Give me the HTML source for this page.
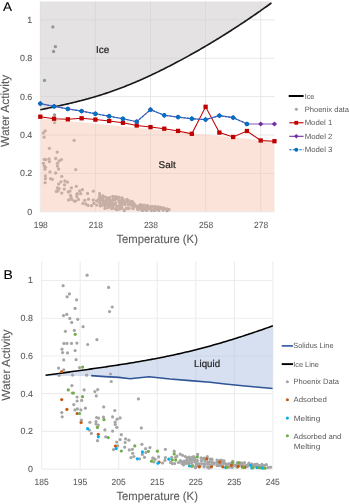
<!DOCTYPE html>
<html><head><meta charset="utf-8"><style>
html,body{margin:0;padding:0;background:#fff;}
body{width:350px;height:504px;overflow:hidden;font-family:"Liberation Sans",sans-serif;}
svg{display:block;will-change:transform;text-rendering:geometricPrecision;}
</style></head><body>
<svg width="350" height="504" viewBox="0 0 350 504">
<line x1="40.3" y1="211.8" x2="274.5" y2="211.8" stroke="#E4E4E4" stroke-width="0.9"/>
<line x1="40.3" y1="173.4" x2="274.5" y2="173.4" stroke="#E4E4E4" stroke-width="0.9"/>
<line x1="40.3" y1="135" x2="274.5" y2="135" stroke="#E4E4E4" stroke-width="0.9"/>
<line x1="40.3" y1="96.6" x2="274.5" y2="96.6" stroke="#E4E4E4" stroke-width="0.9"/>
<line x1="40.3" y1="58.2" x2="274.5" y2="58.2" stroke="#E4E4E4" stroke-width="0.9"/>
<line x1="40.3" y1="19.8" x2="274.5" y2="19.8" stroke="#E4E4E4" stroke-width="0.9"/>
<line x1="40.3" y1="1.5" x2="40.3" y2="211.8" stroke="#E4E4E4" stroke-width="0.9"/>
<line x1="95.4" y1="1.5" x2="95.4" y2="211.8" stroke="#E4E4E4" stroke-width="0.9"/>
<line x1="150.5" y1="1.5" x2="150.5" y2="211.8" stroke="#E4E4E4" stroke-width="0.9"/>
<line x1="205.6" y1="1.5" x2="205.6" y2="211.8" stroke="#E4E4E4" stroke-width="0.9"/>
<line x1="260.7" y1="1.5" x2="260.7" y2="211.8" stroke="#E4E4E4" stroke-width="0.9"/>
<polygon points="40.3,1.5 40.3,109.75 41.68,109.47 43.05,109.19 44.43,108.91 45.81,108.63 47.19,108.34 48.56,108.06 49.94,107.77 51.32,107.48 52.7,107.19 54.07,106.9 55.45,106.6 56.83,106.3 58.21,106 59.58,105.7 60.96,105.4 62.34,105.09 63.72,104.78 65.09,104.47 66.47,104.16 67.85,103.84 69.23,103.52 70.6,103.19 71.98,102.86 73.36,102.53 74.74,102.19 76.11,101.86 77.49,101.51 78.87,101.16 80.25,100.81 81.62,100.46 83,100.09 84.38,99.73 85.76,99.36 87.13,98.98 88.51,98.6 89.89,98.21 91.27,97.82 92.64,97.43 94.02,97.02 95.4,96.62 96.78,96.2 98.16,95.78 99.53,95.36 100.91,94.93 102.29,94.49 103.66,94.05 105.04,93.6 106.42,93.15 107.8,92.68 109.17,92.22 110.55,91.74 111.93,91.26 113.31,90.78 114.68,90.29 116.06,89.79 117.44,89.28 118.82,88.77 120.19,88.25 121.57,87.73 122.95,87.2 124.33,86.67 125.7,86.12 127.08,85.58 128.46,85.02 129.84,84.46 131.21,83.9 132.59,83.33 133.97,82.75 135.35,82.17 136.72,81.58 138.1,80.99 139.48,80.39 140.86,79.78 142.24,79.17 143.61,78.56 144.99,77.93 146.37,77.31 147.75,76.68 149.12,76.04 150.5,75.4 151.88,74.75 153.25,74.1 154.63,73.45 156.01,72.78 157.39,72.12 158.76,71.45 160.14,70.77 161.52,70.09 162.9,69.41 164.27,68.72 165.65,68.03 167.03,67.33 168.41,66.63 169.78,65.92 171.16,65.21 172.54,64.5 173.92,63.78 175.3,63.06 176.67,62.33 178.05,61.6 179.43,60.87 180.81,60.13 182.18,59.38 183.56,58.64 184.94,57.89 186.31,57.13 187.69,56.37 189.07,55.61 190.45,54.84 191.82,54.07 193.2,53.3 194.58,52.52 195.96,51.74 197.33,50.95 198.71,50.16 200.09,49.37 201.47,48.57 202.84,47.77 204.22,46.97 205.6,46.16 206.98,45.34 208.36,44.53 209.73,43.71 211.11,42.88 212.49,42.06 213.87,41.22 215.24,40.39 216.62,39.55 218,38.7 219.38,37.86 220.75,37.01 222.13,36.15 223.51,35.29 224.88,34.43 226.26,33.56 227.64,32.69 229.02,31.82 230.39,30.94 231.77,30.06 233.15,29.17 234.53,28.28 235.9,27.39 237.28,26.49 238.66,25.59 240.04,24.68 241.41,23.78 242.79,22.86 244.17,21.94 245.55,21.02 246.93,20.1 248.3,19.17 249.68,18.23 251.06,17.3 252.44,16.35 253.81,15.41 255.19,14.46 256.57,13.51 257.94,12.55 259.32,11.59 260.7,10.62 262.08,9.65 263.45,8.68 264.83,7.7 266.21,6.72 267.59,5.73 268.96,4.74 270.34,3.74 271.44,2.95 271.44,1.5" fill="#D2CFD0" fill-opacity="0.6"/>
<circle cx="52.9" cy="26.9" r="1.65" fill="#959595"/>
<circle cx="55.4" cy="46.7" r="1.65" fill="#959595"/>
<circle cx="53.6" cy="51.5" r="1.65" fill="#959595"/>
<circle cx="44.5" cy="80.4" r="1.65" fill="#959595"/>
<circle cx="54.6" cy="114.8" r="1.65" fill="#959595"/>
<circle cx="54.6" cy="122.6" r="1.65" fill="#959595"/>
<circle cx="45.2" cy="130.9" r="1.65" fill="#959595"/>
<circle cx="43.4" cy="132.9" r="1.65" fill="#959595"/>
<circle cx="44.1" cy="137.2" r="1.65" fill="#959595"/>
<circle cx="74.1" cy="140.3" r="1.65" fill="#959595"/>
<circle cx="49.4" cy="148.3" r="1.65" fill="#959595"/>
<circle cx="57.2" cy="152.1" r="1.65" fill="#959595"/>
<circle cx="44.3" cy="159.3" r="1.65" fill="#959595"/>
<circle cx="45.8" cy="159.6" r="1.65" fill="#959595"/>
<circle cx="49.1" cy="158.9" r="1.65" fill="#959595"/>
<circle cx="49.4" cy="161.6" r="1.65" fill="#959595"/>
<circle cx="55.7" cy="158.5" r="1.65" fill="#959595"/>
<circle cx="59.1" cy="161" r="1.65" fill="#959595"/>
<circle cx="61.4" cy="159.6" r="1.65" fill="#959595"/>
<circle cx="43.5" cy="163.3" r="1.65" fill="#959595"/>
<circle cx="44.3" cy="166.1" r="1.65" fill="#959595"/>
<circle cx="45.4" cy="167.3" r="1.65" fill="#959595"/>
<circle cx="44.9" cy="169.2" r="1.65" fill="#959595"/>
<circle cx="57.4" cy="163.3" r="1.65" fill="#959595"/>
<circle cx="57.4" cy="166.1" r="1.65" fill="#959595"/>
<circle cx="58.6" cy="169" r="1.65" fill="#959595"/>
<circle cx="75.7" cy="169.6" r="1.65" fill="#959595"/>
<circle cx="50" cy="171.9" r="1.65" fill="#959595"/>
<circle cx="55.7" cy="173" r="1.65" fill="#959595"/>
<circle cx="45.4" cy="175.9" r="1.65" fill="#959595"/>
<circle cx="45.4" cy="178.7" r="1.65" fill="#959595"/>
<circle cx="50.6" cy="178.7" r="1.65" fill="#959595"/>
<circle cx="52.3" cy="179.3" r="1.65" fill="#959595"/>
<circle cx="61.8" cy="176.4" r="1.65" fill="#959595"/>
<circle cx="45.1" cy="182.7" r="1.65" fill="#959595"/>
<circle cx="60.9" cy="181.8" r="1.65" fill="#959595"/>
<circle cx="64.9" cy="181" r="1.65" fill="#959595"/>
<circle cx="67.5" cy="182.1" r="1.65" fill="#959595"/>
<circle cx="58.6" cy="184.1" r="1.65" fill="#959595"/>
<circle cx="64.5" cy="184.8" r="1.65" fill="#959595"/>
<circle cx="57.4" cy="188" r="1.65" fill="#959595"/>
<circle cx="59.1" cy="188.6" r="1.65" fill="#959595"/>
<circle cx="56.3" cy="191.4" r="1.65" fill="#959595"/>
<circle cx="58" cy="190.9" r="1.65" fill="#959595"/>
<circle cx="64.3" cy="189.1" r="1.65" fill="#959595"/>
<circle cx="71.4" cy="187.8" r="1.65" fill="#959595"/>
<circle cx="76.3" cy="186.3" r="1.65" fill="#959595"/>
<circle cx="61.8" cy="193.1" r="1.65" fill="#959595"/>
<circle cx="68.3" cy="192" r="1.65" fill="#959595"/>
<circle cx="69.8" cy="191.2" r="1.65" fill="#959595"/>
<circle cx="70.6" cy="195.4" r="1.65" fill="#959595"/>
<circle cx="76.9" cy="194.3" r="1.65" fill="#959595"/>
<circle cx="76.9" cy="196.6" r="1.65" fill="#959595"/>
<circle cx="68.6" cy="200" r="1.65" fill="#959595"/>
<circle cx="71.7" cy="199.4" r="1.65" fill="#959595"/>
<circle cx="74.3" cy="201.1" r="1.65" fill="#959595"/>
<circle cx="71.1" cy="197.7" r="1.65" fill="#959595"/>
<circle cx="79.6" cy="190.9" r="1.65" fill="#959595"/>
<circle cx="82.4" cy="189.7" r="1.65" fill="#959595"/>
<circle cx="77.3" cy="193.7" r="1.65" fill="#959595"/>
<circle cx="80.7" cy="193.7" r="1.65" fill="#959595"/>
<circle cx="78.4" cy="199.4" r="1.65" fill="#959595"/>
<circle cx="75.6" cy="201.1" r="1.65" fill="#959595"/>
<circle cx="87.6" cy="193.5" r="1.65" fill="#959595"/>
<circle cx="93.3" cy="191.2" r="1.65" fill="#959595"/>
<circle cx="84.7" cy="200.3" r="1.65" fill="#959595"/>
<circle cx="88.5" cy="199.2" r="1.65" fill="#959595"/>
<circle cx="83" cy="203.4" r="1.65" fill="#959595"/>
<circle cx="85.9" cy="204" r="1.65" fill="#959595"/>
<circle cx="88.1" cy="205.4" r="1.65" fill="#959595"/>
<circle cx="91.6" cy="205.7" r="1.65" fill="#959595"/>
<circle cx="93.3" cy="200" r="1.65" fill="#959595"/>
<circle cx="93.9" cy="203.4" r="1.65" fill="#959595"/>
<circle cx="96.7" cy="201.1" r="1.65" fill="#959595"/>
<circle cx="96.7" cy="205.1" r="1.65" fill="#959595"/>
<circle cx="99.6" cy="193.7" r="1.65" fill="#959595"/>
<circle cx="99.6" cy="196.6" r="1.65" fill="#959595"/>
<circle cx="98.4" cy="199.4" r="1.65" fill="#959595"/>
<circle cx="99.6" cy="202.3" r="1.65" fill="#959595"/>
<circle cx="100.1" cy="205.7" r="1.65" fill="#959595"/>
<circle cx="103" cy="196" r="1.65" fill="#959595"/>
<circle cx="105.3" cy="197.1" r="1.65" fill="#959595"/>
<circle cx="107.6" cy="198.9" r="1.65" fill="#959595"/>
<circle cx="103.6" cy="202.9" r="1.65" fill="#959595"/>
<circle cx="105.9" cy="204.6" r="1.65" fill="#959595"/>
<circle cx="109.3" cy="206.3" r="1.65" fill="#959595"/>
<circle cx="111.6" cy="201.7" r="1.65" fill="#959595"/>
<circle cx="113.3" cy="204" r="1.65" fill="#959595"/>
<circle cx="114.4" cy="200" r="1.65" fill="#959595"/>
<circle cx="113.3" cy="208" r="1.65" fill="#959595"/>
<circle cx="110.4" cy="204.6" r="1.65" fill="#959595"/>
<circle cx="116.3" cy="196.6" r="1.65" fill="#959595"/>
<circle cx="113.4" cy="199.4" r="1.65" fill="#959595"/>
<circle cx="110.6" cy="200.6" r="1.65" fill="#959595"/>
<circle cx="123.1" cy="199.4" r="1.65" fill="#959595"/>
<circle cx="126.6" cy="201.7" r="1.65" fill="#959595"/>
<circle cx="119.1" cy="201.1" r="1.65" fill="#959595"/>
<circle cx="115.7" cy="202.9" r="1.65" fill="#959595"/>
<circle cx="130.6" cy="202.3" r="1.65" fill="#959595"/>
<circle cx="133.4" cy="202.9" r="1.65" fill="#959595"/>
<circle cx="121.4" cy="203.4" r="1.65" fill="#959595"/>
<circle cx="124.9" cy="204.6" r="1.65" fill="#959595"/>
<circle cx="112.3" cy="205.1" r="1.65" fill="#959595"/>
<circle cx="116.9" cy="206.3" r="1.65" fill="#959595"/>
<circle cx="121.4" cy="206.9" r="1.65" fill="#959595"/>
<circle cx="128.3" cy="205.1" r="1.65" fill="#959595"/>
<circle cx="131.7" cy="205.7" r="1.65" fill="#959595"/>
<circle cx="135.1" cy="205.7" r="1.65" fill="#959595"/>
<circle cx="140.9" cy="204.6" r="1.65" fill="#959595"/>
<circle cx="144.3" cy="205.1" r="1.65" fill="#959595"/>
<circle cx="147.7" cy="205.7" r="1.65" fill="#959595"/>
<circle cx="111.7" cy="208.6" r="1.65" fill="#959595"/>
<circle cx="115.7" cy="209.1" r="1.65" fill="#959595"/>
<circle cx="119.7" cy="209.1" r="1.65" fill="#959595"/>
<circle cx="124.3" cy="210.3" r="1.65" fill="#959595"/>
<circle cx="128.3" cy="208.6" r="1.65" fill="#959595"/>
<circle cx="132.9" cy="208.6" r="1.65" fill="#959595"/>
<circle cx="137.4" cy="208" r="1.65" fill="#959595"/>
<circle cx="142" cy="208.6" r="1.65" fill="#959595"/>
<circle cx="146.6" cy="208" r="1.65" fill="#959595"/>
<circle cx="149.4" cy="207.4" r="1.65" fill="#959595"/>
<circle cx="138.6" cy="206.3" r="1.65" fill="#959595"/>
<circle cx="152" cy="206.5" r="1.65" fill="#959595"/>
<circle cx="155" cy="206.5" r="1.65" fill="#959595"/>
<circle cx="158" cy="207" r="1.65" fill="#959595"/>
<circle cx="161" cy="207.5" r="1.65" fill="#959595"/>
<circle cx="164" cy="208" r="1.65" fill="#959595"/>
<circle cx="167" cy="209" r="1.65" fill="#959595"/>
<circle cx="169" cy="209.5" r="1.65" fill="#959595"/>
<circle cx="143" cy="210" r="1.65" fill="#959595"/>
<circle cx="147" cy="210" r="1.65" fill="#959595"/>
<circle cx="151" cy="210" r="1.65" fill="#959595"/>
<circle cx="155" cy="210" r="1.65" fill="#959595"/>
<circle cx="159" cy="210" r="1.65" fill="#959595"/>
<circle cx="163" cy="210" r="1.65" fill="#959595"/>
<circle cx="167" cy="210.5" r="1.65" fill="#959595"/>
<circle cx="100.08" cy="195.99" r="1.65" fill="#959595"/>
<circle cx="100.54" cy="198.25" r="1.65" fill="#959595"/>
<circle cx="100.51" cy="200.46" r="1.65" fill="#959595"/>
<circle cx="99.98" cy="203.12" r="1.65" fill="#959595"/>
<circle cx="100.89" cy="205.76" r="1.65" fill="#959595"/>
<circle cx="103.05" cy="197.85" r="1.65" fill="#959595"/>
<circle cx="102.78" cy="200.48" r="1.65" fill="#959595"/>
<circle cx="103.33" cy="202.26" r="1.65" fill="#959595"/>
<circle cx="102.44" cy="204.88" r="1.65" fill="#959595"/>
<circle cx="105.4" cy="200.66" r="1.65" fill="#959595"/>
<circle cx="105.36" cy="202.57" r="1.65" fill="#959595"/>
<circle cx="104.95" cy="205.91" r="1.65" fill="#959595"/>
<circle cx="105.08" cy="208.39" r="1.65" fill="#959595"/>
<circle cx="107.46" cy="198.04" r="1.65" fill="#959595"/>
<circle cx="107.39" cy="200.38" r="1.65" fill="#959595"/>
<circle cx="108.15" cy="203.17" r="1.65" fill="#959595"/>
<circle cx="108.28" cy="205.03" r="1.65" fill="#959595"/>
<circle cx="108.01" cy="207.67" r="1.65" fill="#959595"/>
<circle cx="109.55" cy="197.68" r="1.65" fill="#959595"/>
<circle cx="110.19" cy="200.53" r="1.65" fill="#959595"/>
<circle cx="110.33" cy="202.8" r="1.65" fill="#959595"/>
<circle cx="110.05" cy="205.69" r="1.65" fill="#959595"/>
<circle cx="112.7" cy="196.52" r="1.65" fill="#959595"/>
<circle cx="112.68" cy="200.24" r="1.65" fill="#959595"/>
<circle cx="112.36" cy="205.05" r="1.65" fill="#959595"/>
<circle cx="112.45" cy="207.05" r="1.65" fill="#959595"/>
<circle cx="114.37" cy="196.93" r="1.65" fill="#959595"/>
<circle cx="114.6" cy="199.08" r="1.65" fill="#959595"/>
<circle cx="114.84" cy="204.47" r="1.65" fill="#959595"/>
<circle cx="117.2" cy="198.99" r="1.65" fill="#959595"/>
<circle cx="116.91" cy="206.63" r="1.65" fill="#959595"/>
<circle cx="117.28" cy="209.66" r="1.65" fill="#959595"/>
<circle cx="119.1" cy="197.33" r="1.65" fill="#959595"/>
<circle cx="119.78" cy="200.57" r="1.65" fill="#959595"/>
<circle cx="119.72" cy="202.77" r="1.65" fill="#959595"/>
<circle cx="119.16" cy="205.71" r="1.65" fill="#959595"/>
<circle cx="120.15" cy="208.19" r="1.65" fill="#959595"/>
<circle cx="121.98" cy="197.83" r="1.65" fill="#959595"/>
<circle cx="121.57" cy="200.39" r="1.65" fill="#959595"/>
<circle cx="121.69" cy="203.31" r="1.65" fill="#959595"/>
<circle cx="121.5" cy="205.69" r="1.65" fill="#959595"/>
<circle cx="121.94" cy="208.14" r="1.65" fill="#959595"/>
<circle cx="124.08" cy="201.46" r="1.65" fill="#959595"/>
<circle cx="124.34" cy="203.9" r="1.65" fill="#959595"/>
<circle cx="126.88" cy="199.41" r="1.65" fill="#959595"/>
<circle cx="126.71" cy="202.22" r="1.65" fill="#959595"/>
<circle cx="126.33" cy="208.24" r="1.65" fill="#959595"/>
<circle cx="128.88" cy="200.7" r="1.65" fill="#959595"/>
<circle cx="129.33" cy="203.82" r="1.65" fill="#959595"/>
<circle cx="129.01" cy="208.29" r="1.65" fill="#959595"/>
<circle cx="132.03" cy="201.43" r="1.65" fill="#959595"/>
<circle cx="131.5" cy="203.66" r="1.65" fill="#959595"/>
<circle cx="134.47" cy="204.38" r="1.65" fill="#959595"/>
<circle cx="133.77" cy="206.22" r="1.65" fill="#959595"/>
<circle cx="133.53" cy="207.83" r="1.65" fill="#959595"/>
<circle cx="135.81" cy="205.92" r="1.65" fill="#959595"/>
<circle cx="138.62" cy="206.06" r="1.65" fill="#959595"/>
<circle cx="137.76" cy="209.55" r="1.65" fill="#959595"/>
<circle cx="139.75" cy="205.41" r="1.65" fill="#959595"/>
<circle cx="140.51" cy="207.44" r="1.65" fill="#959595"/>
<circle cx="140.46" cy="209.16" r="1.65" fill="#959595"/>
<circle cx="142.59" cy="205.59" r="1.65" fill="#959595"/>
<circle cx="142.07" cy="207.07" r="1.65" fill="#959595"/>
<circle cx="141.9" cy="210.01" r="1.65" fill="#959595"/>
<circle cx="143.98" cy="208.06" r="1.65" fill="#959595"/>
<circle cx="143.7" cy="209.28" r="1.65" fill="#959595"/>
<circle cx="146.59" cy="205.8" r="1.65" fill="#959595"/>
<circle cx="146.49" cy="208.21" r="1.65" fill="#959595"/>
<circle cx="145.92" cy="209.89" r="1.65" fill="#959595"/>
<circle cx="147.52" cy="206.6" r="1.65" fill="#959595"/>
<circle cx="148.13" cy="208.75" r="1.65" fill="#959595"/>
<circle cx="150.55" cy="207.02" r="1.65" fill="#959595"/>
<circle cx="149.8" cy="208.58" r="1.65" fill="#959595"/>
<circle cx="152.2" cy="206.92" r="1.65" fill="#959595"/>
<circle cx="151.66" cy="209.9" r="1.65" fill="#959595"/>
<circle cx="154.05" cy="207.46" r="1.65" fill="#959595"/>
<circle cx="154" cy="210.06" r="1.65" fill="#959595"/>
<circle cx="156.14" cy="207.54" r="1.65" fill="#959595"/>
<circle cx="156.03" cy="209.33" r="1.65" fill="#959595"/>
<circle cx="158.46" cy="207.26" r="1.65" fill="#959595"/>
<circle cx="158.37" cy="209.93" r="1.65" fill="#959595"/>
<circle cx="160.12" cy="207.89" r="1.65" fill="#959595"/>
<circle cx="161.63" cy="208.29" r="1.65" fill="#959595"/>
<circle cx="163.83" cy="208.95" r="1.65" fill="#959595"/>
<circle cx="166.17" cy="209.33" r="1.65" fill="#959595"/>
<circle cx="168.03" cy="209.69" r="1.65" fill="#959595"/>
<polygon points="40.9,118.35 274.5,141.5 274.5,211.25 40.9,211.25" fill="#F9C7B3" fill-opacity="0.5"/>
<polyline points="40.3,109.75 41.68,109.47 43.05,109.19 44.43,108.91 45.81,108.63 47.19,108.34 48.56,108.06 49.94,107.77 51.32,107.48 52.7,107.19 54.07,106.9 55.45,106.6 56.83,106.3 58.21,106 59.58,105.7 60.96,105.4 62.34,105.09 63.72,104.78 65.09,104.47 66.47,104.16 67.85,103.84 69.23,103.52 70.6,103.19 71.98,102.86 73.36,102.53 74.74,102.19 76.11,101.86 77.49,101.51 78.87,101.16 80.25,100.81 81.62,100.46 83,100.09 84.38,99.73 85.76,99.36 87.13,98.98 88.51,98.6 89.89,98.21 91.27,97.82 92.64,97.43 94.02,97.02 95.4,96.62 96.78,96.2 98.16,95.78 99.53,95.36 100.91,94.93 102.29,94.49 103.66,94.05 105.04,93.6 106.42,93.15 107.8,92.68 109.17,92.22 110.55,91.74 111.93,91.26 113.31,90.78 114.68,90.29 116.06,89.79 117.44,89.28 118.82,88.77 120.19,88.25 121.57,87.73 122.95,87.2 124.33,86.67 125.7,86.12 127.08,85.58 128.46,85.02 129.84,84.46 131.21,83.9 132.59,83.33 133.97,82.75 135.35,82.17 136.72,81.58 138.1,80.99 139.48,80.39 140.86,79.78 142.24,79.17 143.61,78.56 144.99,77.93 146.37,77.31 147.75,76.68 149.12,76.04 150.5,75.4 151.88,74.75 153.25,74.1 154.63,73.45 156.01,72.78 157.39,72.12 158.76,71.45 160.14,70.77 161.52,70.09 162.9,69.41 164.27,68.72 165.65,68.03 167.03,67.33 168.41,66.63 169.78,65.92 171.16,65.21 172.54,64.5 173.92,63.78 175.3,63.06 176.67,62.33 178.05,61.6 179.43,60.87 180.81,60.13 182.18,59.38 183.56,58.64 184.94,57.89 186.31,57.13 187.69,56.37 189.07,55.61 190.45,54.84 191.82,54.07 193.2,53.3 194.58,52.52 195.96,51.74 197.33,50.95 198.71,50.16 200.09,49.37 201.47,48.57 202.84,47.77 204.22,46.97 205.6,46.16 206.98,45.34 208.36,44.53 209.73,43.71 211.11,42.88 212.49,42.06 213.87,41.22 215.24,40.39 216.62,39.55 218,38.7 219.38,37.86 220.75,37.01 222.13,36.15 223.51,35.29 224.88,34.43 226.26,33.56 227.64,32.69 229.02,31.82 230.39,30.94 231.77,30.06 233.15,29.17 234.53,28.28 235.9,27.39 237.28,26.49 238.66,25.59 240.04,24.68 241.41,23.78 242.79,22.86 244.17,21.94 245.55,21.02 246.93,20.1 248.3,19.17 249.68,18.23 251.06,17.3 252.44,16.35 253.81,15.41 255.19,14.46 256.57,13.51 257.94,12.55 259.32,11.59 260.7,10.62 262.08,9.65 263.45,8.68 264.83,7.7 266.21,6.72 267.59,5.73 268.96,4.74 270.34,3.74 271.44,2.95" fill="none" stroke="#1a1a1a" stroke-width="1.65"/>
<polyline points="40.3,116.7 54.07,118.7 67.85,119.3 81.62,118.3 95.4,119.6 109.17,121 122.95,122.8 136.72,125.5 150.5,127.1 164.27,128.7 178.05,130.9 191.82,133.8 205.6,106.8 219.38,132.6 233.15,137 246.93,131 260.7,140.5 274.47,141.2" fill="none" stroke="#C00000" stroke-width="1.05"/>
<rect x="38.15" y="114.55" width="4.3" height="4.3" fill="#C00000"/>
<rect x="51.92" y="116.55" width="4.3" height="4.3" fill="#C00000"/>
<rect x="65.7" y="117.15" width="4.3" height="4.3" fill="#C00000"/>
<rect x="79.47" y="116.15" width="4.3" height="4.3" fill="#C00000"/>
<rect x="93.25" y="117.45" width="4.3" height="4.3" fill="#C00000"/>
<rect x="107.02" y="118.85" width="4.3" height="4.3" fill="#C00000"/>
<rect x="120.8" y="120.65" width="4.3" height="4.3" fill="#C00000"/>
<rect x="134.57" y="123.35" width="4.3" height="4.3" fill="#C00000"/>
<rect x="148.35" y="124.95" width="4.3" height="4.3" fill="#C00000"/>
<rect x="162.12" y="126.55" width="4.3" height="4.3" fill="#C00000"/>
<rect x="175.9" y="128.75" width="4.3" height="4.3" fill="#C00000"/>
<rect x="189.67" y="131.65" width="4.3" height="4.3" fill="#C00000"/>
<rect x="203.45" y="104.65" width="4.3" height="4.3" fill="#C00000"/>
<rect x="217.22" y="130.45" width="4.3" height="4.3" fill="#C00000"/>
<rect x="231" y="134.85" width="4.3" height="4.3" fill="#C00000"/>
<rect x="244.78" y="128.85" width="4.3" height="4.3" fill="#C00000"/>
<rect x="258.55" y="138.35" width="4.3" height="4.3" fill="#C00000"/>
<rect x="272.32" y="139.05" width="4.3" height="4.3" fill="#C00000"/>
<polyline points="40.3,103.6 54.07,106.4 67.85,108.9 81.62,111.1 95.4,113.8 109.17,116.2 122.95,118.8 136.72,121.7 150.5,109.7 164.27,115.3 178.05,117.1 191.82,118.7 205.6,119.6 219.38,115.6 233.15,117.6 246.93,124 260.7,124 274.47,124" fill="none" stroke="#8A5ABD" stroke-width="1.1"/>
<polygon points="40.3,101 42.9,103.6 40.3,106.2 37.7,103.6" fill="#7030A0"/>
<polygon points="54.07,103.8 56.67,106.4 54.07,109 51.47,106.4" fill="#7030A0"/>
<polygon points="67.85,106.3 70.45,108.9 67.85,111.5 65.25,108.9" fill="#7030A0"/>
<polygon points="81.62,108.5 84.22,111.1 81.62,113.7 79.03,111.1" fill="#7030A0"/>
<polygon points="95.4,111.2 98,113.8 95.4,116.4 92.8,113.8" fill="#7030A0"/>
<polygon points="109.17,113.6 111.77,116.2 109.17,118.8 106.58,116.2" fill="#7030A0"/>
<polygon points="122.95,116.2 125.55,118.8 122.95,121.4 120.35,118.8" fill="#7030A0"/>
<polygon points="136.72,119.1 139.32,121.7 136.72,124.3 134.12,121.7" fill="#7030A0"/>
<polygon points="150.5,107.1 153.1,109.7 150.5,112.3 147.9,109.7" fill="#7030A0"/>
<polygon points="164.27,112.7 166.87,115.3 164.27,117.9 161.67,115.3" fill="#7030A0"/>
<polygon points="178.05,114.5 180.65,117.1 178.05,119.7 175.45,117.1" fill="#7030A0"/>
<polygon points="191.82,116.1 194.42,118.7 191.82,121.3 189.22,118.7" fill="#7030A0"/>
<polygon points="205.6,117 208.2,119.6 205.6,122.2 203,119.6" fill="#7030A0"/>
<polygon points="219.38,113 221.97,115.6 219.38,118.2 216.78,115.6" fill="#7030A0"/>
<polygon points="233.15,115 235.75,117.6 233.15,120.2 230.55,117.6" fill="#7030A0"/>
<polygon points="246.93,121.4 249.53,124 246.93,126.6 244.33,124" fill="#7030A0"/>
<polygon points="260.7,121.4 263.3,124 260.7,126.6 258.1,124" fill="#7030A0"/>
<polygon points="274.47,121.4 277.07,124 274.47,126.6 271.87,124" fill="#7030A0"/>
<polyline points="40.3,103.6 54.07,106.4 67.85,108.9 81.62,111.1 95.4,113.8 109.17,116.2 122.95,118.8 136.72,121.7 150.5,109.7 164.27,115.3 178.05,117.1 191.82,118.7 205.6,119.6 219.38,115.6 233.15,117.6 246.93,124" fill="none" stroke="#0070C0" stroke-width="1.1" stroke-dasharray="2.4,1.1"/>
<circle cx="40.3" cy="103.6" r="2.2" fill="#0070C0"/>
<circle cx="54.07" cy="106.4" r="2.2" fill="#0070C0"/>
<circle cx="67.85" cy="108.9" r="2.2" fill="#0070C0"/>
<circle cx="81.62" cy="111.1" r="2.2" fill="#0070C0"/>
<circle cx="95.4" cy="113.8" r="2.2" fill="#0070C0"/>
<circle cx="109.17" cy="116.2" r="2.2" fill="#0070C0"/>
<circle cx="122.95" cy="118.8" r="2.2" fill="#0070C0"/>
<circle cx="136.72" cy="121.7" r="2.2" fill="#0070C0"/>
<circle cx="150.5" cy="109.7" r="2.2" fill="#0070C0"/>
<circle cx="164.27" cy="115.3" r="2.2" fill="#0070C0"/>
<circle cx="178.05" cy="117.1" r="2.2" fill="#0070C0"/>
<circle cx="191.82" cy="118.7" r="2.2" fill="#0070C0"/>
<circle cx="205.6" cy="119.6" r="2.2" fill="#0070C0"/>
<circle cx="219.38" cy="115.6" r="2.2" fill="#0070C0"/>
<circle cx="233.15" cy="117.6" r="2.2" fill="#0070C0"/>
<circle cx="246.93" cy="124" r="2.2" fill="#0070C0"/>
<text x="95.9" y="53.1" font-family="Liberation Sans, sans-serif" font-size="9.9" fill="#1f1f1f" stroke="#1f1f1f" stroke-width="0.2" textLength="13.3" lengthAdjust="spacingAndGlyphs">Ice</text>
<text x="158.6" y="167.8" font-family="Liberation Sans, sans-serif" font-size="9.7" fill="#1f1f1f" stroke="#1f1f1f" stroke-width="0.2" textLength="17.2" lengthAdjust="spacingAndGlyphs">Salt</text>
<text x="32.3" y="214.75" font-family="Liberation Sans, sans-serif" font-size="8.9" fill="#595959" stroke="#595959" stroke-width="0.08" text-anchor="end">0</text>
<text x="32.3" y="176.35" font-family="Liberation Sans, sans-serif" font-size="8.9" fill="#595959" stroke="#595959" stroke-width="0.08" text-anchor="end">0.2</text>
<text x="32.3" y="137.95" font-family="Liberation Sans, sans-serif" font-size="8.9" fill="#595959" stroke="#595959" stroke-width="0.08" text-anchor="end">0.4</text>
<text x="32.3" y="99.55" font-family="Liberation Sans, sans-serif" font-size="8.9" fill="#595959" stroke="#595959" stroke-width="0.08" text-anchor="end">0.6</text>
<text x="32.3" y="61.15" font-family="Liberation Sans, sans-serif" font-size="8.9" fill="#595959" stroke="#595959" stroke-width="0.08" text-anchor="end">0.8</text>
<text x="32.3" y="22.75" font-family="Liberation Sans, sans-serif" font-size="8.9" fill="#595959" stroke="#595959" stroke-width="0.08" text-anchor="end">1</text>
<text x="33.7" y="227.5" font-family="Liberation Sans, sans-serif" font-size="9" fill="#595959" stroke="#595959" stroke-width="0.08" textLength="14.1" lengthAdjust="spacingAndGlyphs">198</text>
<text x="88.8" y="227.5" font-family="Liberation Sans, sans-serif" font-size="9" fill="#595959" stroke="#595959" stroke-width="0.08" textLength="14.1" lengthAdjust="spacingAndGlyphs">218</text>
<text x="143.9" y="227.5" font-family="Liberation Sans, sans-serif" font-size="9" fill="#595959" stroke="#595959" stroke-width="0.08" textLength="14.1" lengthAdjust="spacingAndGlyphs">238</text>
<text x="199" y="227.5" font-family="Liberation Sans, sans-serif" font-size="9" fill="#595959" stroke="#595959" stroke-width="0.08" textLength="14.1" lengthAdjust="spacingAndGlyphs">258</text>
<text x="254.1" y="227.5" font-family="Liberation Sans, sans-serif" font-size="9" fill="#595959" stroke="#595959" stroke-width="0.08" textLength="14.1" lengthAdjust="spacingAndGlyphs">278</text>
<text x="116.4" y="243.4" font-family="Liberation Sans, sans-serif" font-size="11.8" fill="#595959" stroke="#595959" stroke-width="0.1" textLength="81.5" lengthAdjust="spacingAndGlyphs">Temperature (K)</text>
<text transform="translate(9.2,147) rotate(-90)" x="0" y="0" font-family="Liberation Sans, sans-serif" font-size="11.8" fill="#595959" stroke="#595959" stroke-width="0.1" textLength="72.3" lengthAdjust="spacingAndGlyphs">Water Activity</text>
<text x="2.9" y="11" font-family="Liberation Sans, sans-serif" font-size="12.6" fill="#000" stroke="#000" stroke-width="0.12" textLength="9" lengthAdjust="spacingAndGlyphs">A</text>
<line x1="288.7" y1="96" x2="303.6" y2="96" stroke="#000" stroke-width="2"/>
<circle cx="296.4" cy="109.3" r="1.55" fill="#A5A5A5"/>
<line x1="289.3" y1="122.8" x2="303.6" y2="122.8" stroke="#C00000" stroke-width="1.1"/>
<rect x="294.4" y="120.9" width="3.8" height="3.8" fill="#C00000"/>
<line x1="289.3" y1="136.3" x2="303.6" y2="136.3" stroke="#7030A0" stroke-width="1.1"/>
<polygon points="296.3,134 298.6,136.3 296.3,138.6 294,136.3" fill="#7030A0"/>
<line x1="289.3" y1="149.7" x2="303.6" y2="149.7" stroke="#0070C0" stroke-width="1.1" stroke-dasharray="2.2,1.2"/>
<circle cx="296.3" cy="149.7" r="1.95" fill="#0070C0"/>
<text x="304.65" y="98.8" font-family="Liberation Sans, sans-serif" font-size="7.6" fill="#595959" textLength="9.7" lengthAdjust="spacingAndGlyphs">Ice</text>
<text x="304.65" y="111.8" font-family="Liberation Sans, sans-serif" font-size="7.6" fill="#595959" textLength="44.3" lengthAdjust="spacingAndGlyphs">Phoenix data</text>
<text x="304.65" y="125.3" font-family="Liberation Sans, sans-serif" font-size="7.6" fill="#595959" textLength="27.7" lengthAdjust="spacingAndGlyphs">Model 1</text>
<text x="304.65" y="138.8" font-family="Liberation Sans, sans-serif" font-size="7.6" fill="#595959" textLength="27.8" lengthAdjust="spacingAndGlyphs">Model 2</text>
<text x="304.65" y="152.2" font-family="Liberation Sans, sans-serif" font-size="7.6" fill="#595959" textLength="27.8" lengthAdjust="spacingAndGlyphs">Model 3</text>
<line x1="41.7" y1="469.1" x2="272.9" y2="469.1" stroke="#EDEDED" stroke-width="1.1"/>
<line x1="41.7" y1="431.38" x2="272.9" y2="431.38" stroke="#EDEDED" stroke-width="1.1"/>
<line x1="41.7" y1="393.66" x2="272.9" y2="393.66" stroke="#EDEDED" stroke-width="1.1"/>
<line x1="41.7" y1="355.94" x2="272.9" y2="355.94" stroke="#EDEDED" stroke-width="1.1"/>
<line x1="41.7" y1="318.22" x2="272.9" y2="318.22" stroke="#EDEDED" stroke-width="1.1"/>
<line x1="41.7" y1="280.5" x2="272.9" y2="280.5" stroke="#EDEDED" stroke-width="1.1"/>
<line x1="41.7" y1="261.2" x2="41.7" y2="469.1" stroke="#EDEDED" stroke-width="1.1"/>
<line x1="80.23" y1="261.2" x2="80.23" y2="469.1" stroke="#EDEDED" stroke-width="1.1"/>
<line x1="118.76" y1="261.2" x2="118.76" y2="469.1" stroke="#EDEDED" stroke-width="1.1"/>
<line x1="157.29" y1="261.2" x2="157.29" y2="469.1" stroke="#EDEDED" stroke-width="1.1"/>
<line x1="195.82" y1="261.2" x2="195.82" y2="469.1" stroke="#EDEDED" stroke-width="1.1"/>
<line x1="234.35" y1="261.2" x2="234.35" y2="469.1" stroke="#EDEDED" stroke-width="1.1"/>
<line x1="272.88" y1="261.2" x2="272.88" y2="469.1" stroke="#EDEDED" stroke-width="1.1"/>
<polygon points="45.55,376 45.55,375.31 47.48,375.04 49.41,374.78 51.33,374.51 53.26,374.24 55.19,373.98 57.11,373.71 59.04,373.44 60.97,373.18 62.89,372.91 64.82,372.64 66.74,372.37 68.67,372.11 70.6,371.84 72.52,371.57 74.45,371.3 76.38,371.03 78.3,370.76 80.23,370.49 82.16,370.22 84.08,369.95 86.01,369.68 87.94,369.41 89.86,369.14 91.79,368.86 93.72,368.59 95.64,368.31 97.57,368.03 99.5,367.75 101.42,367.48 103.35,367.19 105.27,366.91 107.2,366.63 109.13,366.34 111.05,366.05 112.98,365.76 114.91,365.47 116.83,365.18 118.76,364.88 120.69,364.58 122.61,364.28 124.54,363.98 126.47,363.67 128.39,363.36 130.32,363.05 132.25,362.73 134.17,362.41 136.1,362.09 138.03,361.77 139.95,361.44 141.88,361.1 143.8,360.76 145.73,360.42 147.66,360.08 149.58,359.73 151.51,359.37 153.44,359.01 155.36,358.65 157.29,358.28 159.22,357.91 161.14,357.53 163.07,357.14 165,356.75 166.92,356.36 168.85,355.96 170.78,355.55 172.7,355.14 174.63,354.72 176.56,354.3 178.48,353.87 180.41,353.43 182.33,352.99 184.26,352.55 186.19,352.09 188.11,351.63 190.04,351.17 191.97,350.7 193.89,350.22 195.82,349.74 197.75,349.25 199.67,348.75 201.6,348.25 203.53,347.74 205.45,347.23 207.38,346.71 209.31,346.18 211.23,345.65 213.16,345.11 215.09,344.57 217.01,344.02 218.94,343.46 220.86,342.9 222.79,342.34 224.72,341.76 226.64,341.19 228.57,340.6 230.5,340.01 232.42,339.42 234.35,338.82 236.28,338.22 238.2,337.61 240.13,336.99 242.06,336.37 243.98,335.74 245.91,335.11 247.84,334.48 249.76,333.84 251.69,333.2 253.62,332.55 255.54,331.89 257.47,331.23 259.39,330.57 261.32,329.9 263.25,329.23 265.17,328.56 267.1,327.87 269.03,327.19 270.95,326.5 272.88,325.81 272.6,388.5 245,386 225,384 210,382.3 190,380.6 170,379 149,376.7 130,378.7 118.9,377.4 105.1,376.6 91.1,375.6 91.1,376" fill="#AFC1E3" fill-opacity="0.5"/>
<polyline points="91.1,375.6 105.1,376.6 118.9,377.4 130,378.7 149,376.7 170,379 190,380.6 210,382.3 225,384 245,386 272.6,388.5" fill="none" stroke="#2F5597" stroke-width="1.6"/>
<polyline points="45.55,375.31 47.48,375.04 49.41,374.78 51.33,374.51 53.26,374.24 55.19,373.98 57.11,373.71 59.04,373.44 60.97,373.18 62.89,372.91 64.82,372.64 66.74,372.37 68.67,372.11 70.6,371.84 72.52,371.57 74.45,371.3 76.38,371.03 78.3,370.76 80.23,370.49 82.16,370.22 84.08,369.95 86.01,369.68 87.94,369.41 89.86,369.14 91.79,368.86 93.72,368.59 95.64,368.31 97.57,368.03 99.5,367.75 101.42,367.48 103.35,367.19 105.27,366.91 107.2,366.63 109.13,366.34 111.05,366.05 112.98,365.76 114.91,365.47 116.83,365.18 118.76,364.88 120.69,364.58 122.61,364.28 124.54,363.98 126.47,363.67 128.39,363.36 130.32,363.05 132.25,362.73 134.17,362.41 136.1,362.09 138.03,361.77 139.95,361.44 141.88,361.1 143.8,360.76 145.73,360.42 147.66,360.08 149.58,359.73 151.51,359.37 153.44,359.01 155.36,358.65 157.29,358.28 159.22,357.91 161.14,357.53 163.07,357.14 165,356.75 166.92,356.36 168.85,355.96 170.78,355.55 172.7,355.14 174.63,354.72 176.56,354.3 178.48,353.87 180.41,353.43 182.33,352.99 184.26,352.55 186.19,352.09 188.11,351.63 190.04,351.17 191.97,350.7 193.89,350.22 195.82,349.74 197.75,349.25 199.67,348.75 201.6,348.25 203.53,347.74 205.45,347.23 207.38,346.71 209.31,346.18 211.23,345.65 213.16,345.11 215.09,344.57 217.01,344.02 218.94,343.46 220.86,342.9 222.79,342.34 224.72,341.76 226.64,341.19 228.57,340.6 230.5,340.01 232.42,339.42 234.35,338.82 236.28,338.22 238.2,337.61 240.13,336.99 242.06,336.37 243.98,335.74 245.91,335.11 247.84,334.48 249.76,333.84 251.69,333.2 253.62,332.55 255.54,331.89 257.47,331.23 259.39,330.57 261.32,329.9 263.25,329.23 265.17,328.56 267.1,327.87 269.03,327.19 270.95,326.5 272.88,325.81" fill="none" stroke="#000" stroke-width="1.55"/>
<circle cx="87.1" cy="275.2" r="1.6" fill="#A5A5A5"/>
<circle cx="63.1" cy="285.7" r="1.6" fill="#A5A5A5"/>
<circle cx="69.4" cy="293.9" r="1.6" fill="#A5A5A5"/>
<circle cx="67.1" cy="296.8" r="1.6" fill="#A5A5A5"/>
<circle cx="76.6" cy="299.8" r="1.6" fill="#A5A5A5"/>
<circle cx="108.6" cy="287.4" r="1.6" fill="#A5A5A5"/>
<circle cx="75.1" cy="308.4" r="1.6" fill="#A5A5A5"/>
<circle cx="63.5" cy="315.6" r="1.6" fill="#A5A5A5"/>
<circle cx="66.8" cy="314.4" r="1.6" fill="#A5A5A5"/>
<circle cx="69.8" cy="318.4" r="1.6" fill="#A5A5A5"/>
<circle cx="77.7" cy="319.3" r="1.6" fill="#A5A5A5"/>
<circle cx="71.7" cy="322.4" r="1.6" fill="#A5A5A5"/>
<circle cx="83.1" cy="326.7" r="1.6" fill="#A5A5A5"/>
<circle cx="65.4" cy="331.3" r="1.6" fill="#A5A5A5"/>
<circle cx="74.3" cy="330.4" r="1.6" fill="#A5A5A5"/>
<circle cx="112.2" cy="307" r="1.6" fill="#A5A5A5"/>
<circle cx="109.5" cy="311.6" r="1.6" fill="#A5A5A5"/>
<circle cx="63.9" cy="343.4" r="1.6" fill="#A5A5A5"/>
<circle cx="66.9" cy="343.4" r="1.6" fill="#A5A5A5"/>
<circle cx="71.5" cy="343.4" r="1.6" fill="#A5A5A5"/>
<circle cx="76.9" cy="343.1" r="1.6" fill="#A5A5A5"/>
<circle cx="87.7" cy="344.5" r="1.6" fill="#A5A5A5"/>
<circle cx="62" cy="349.2" r="1.6" fill="#A5A5A5"/>
<circle cx="62.6" cy="352.6" r="1.6" fill="#A5A5A5"/>
<circle cx="67.5" cy="352.9" r="1.6" fill="#A5A5A5"/>
<circle cx="75.1" cy="350.6" r="1.6" fill="#A5A5A5"/>
<circle cx="63.7" cy="359.9" r="1.6" fill="#A5A5A5"/>
<circle cx="76.1" cy="359.7" r="1.6" fill="#A5A5A5"/>
<circle cx="96.9" cy="339.7" r="1.6" fill="#A5A5A5"/>
<circle cx="58.6" cy="368.1" r="1.6" fill="#A5A5A5"/>
<circle cx="63.8" cy="369.8" r="1.6" fill="#A5A5A5"/>
<circle cx="79.5" cy="367.6" r="1.6" fill="#A5A5A5"/>
<circle cx="59.1" cy="375.3" r="1.6" fill="#A5A5A5"/>
<circle cx="72.6" cy="375.1" r="1.6" fill="#A5A5A5"/>
<circle cx="86.6" cy="375.2" r="1.6" fill="#A5A5A5"/>
<circle cx="110.5" cy="374" r="1.6" fill="#A5A5A5"/>
<circle cx="111.2" cy="381.5" r="1.6" fill="#A5A5A5"/>
<circle cx="71.9" cy="385.6" r="1.6" fill="#A5A5A5"/>
<circle cx="72.3" cy="393" r="1.6" fill="#A5A5A5"/>
<circle cx="84.1" cy="389.9" r="1.6" fill="#A5A5A5"/>
<circle cx="77.1" cy="397" r="1.6" fill="#A5A5A5"/>
<circle cx="97.7" cy="389.6" r="1.6" fill="#A5A5A5"/>
<circle cx="94.9" cy="391.6" r="1.6" fill="#A5A5A5"/>
<circle cx="96.3" cy="395.9" r="1.6" fill="#A5A5A5"/>
<circle cx="81.7" cy="400.4" r="1.6" fill="#A5A5A5"/>
<circle cx="77.1" cy="401" r="1.6" fill="#A5A5A5"/>
<circle cx="73.8" cy="404.6" r="1.6" fill="#A5A5A5"/>
<circle cx="138.4" cy="398.9" r="1.6" fill="#A5A5A5"/>
<circle cx="74.9" cy="409.9" r="1.6" fill="#A5A5A5"/>
<circle cx="77.4" cy="408.9" r="1.6" fill="#A5A5A5"/>
<circle cx="80.9" cy="409.9" r="1.6" fill="#A5A5A5"/>
<circle cx="85.4" cy="408.2" r="1.6" fill="#A5A5A5"/>
<circle cx="61.8" cy="412.6" r="1.6" fill="#A5A5A5"/>
<circle cx="62.2" cy="416.8" r="1.6" fill="#A5A5A5"/>
<circle cx="81.4" cy="420.2" r="1.6" fill="#A5A5A5"/>
<circle cx="89.9" cy="422.3" r="1.6" fill="#A5A5A5"/>
<circle cx="89.4" cy="430.1" r="1.6" fill="#A5A5A5"/>
<circle cx="103.7" cy="406.9" r="1.6" fill="#A5A5A5"/>
<circle cx="114.8" cy="410.5" r="1.6" fill="#A5A5A5"/>
<circle cx="96.6" cy="417.5" r="1.6" fill="#A5A5A5"/>
<circle cx="98.6" cy="418.1" r="1.6" fill="#A5A5A5"/>
<circle cx="103.4" cy="417.1" r="1.6" fill="#A5A5A5"/>
<circle cx="112.6" cy="416.9" r="1.6" fill="#A5A5A5"/>
<circle cx="117.1" cy="419.2" r="1.6" fill="#A5A5A5"/>
<circle cx="120.1" cy="417.9" r="1.6" fill="#A5A5A5"/>
<circle cx="96" cy="421.5" r="1.6" fill="#A5A5A5"/>
<circle cx="96" cy="424" r="1.6" fill="#A5A5A5"/>
<circle cx="98.3" cy="425.1" r="1.6" fill="#A5A5A5"/>
<circle cx="115.2" cy="422.2" r="1.6" fill="#A5A5A5"/>
<circle cx="115.2" cy="424.5" r="1.6" fill="#A5A5A5"/>
<circle cx="116.8" cy="427.4" r="1.6" fill="#A5A5A5"/>
<circle cx="91.4" cy="433.4" r="1.6" fill="#A5A5A5"/>
<circle cx="104.9" cy="429.9" r="1.6" fill="#A5A5A5"/>
<circle cx="112.6" cy="431.1" r="1.6" fill="#A5A5A5"/>
<circle cx="105.7" cy="436.8" r="1.6" fill="#A5A5A5"/>
<circle cx="121.3" cy="434.7" r="1.6" fill="#A5A5A5"/>
<circle cx="141.3" cy="427.9" r="1.6" fill="#A5A5A5"/>
<circle cx="120.1" cy="439.6" r="1.6" fill="#A5A5A5"/>
<circle cx="125.6" cy="438.9" r="1.6" fill="#A5A5A5"/>
<circle cx="128.9" cy="440.2" r="1.6" fill="#A5A5A5"/>
<circle cx="125.1" cy="442.5" r="1.6" fill="#A5A5A5"/>
<circle cx="116.7" cy="442.1" r="1.6" fill="#A5A5A5"/>
<circle cx="141.9" cy="444.3" r="1.6" fill="#A5A5A5"/>
<circle cx="97.5" cy="440.7" r="1.6" fill="#A5A5A5"/>
<circle cx="117.7" cy="445.9" r="1.6" fill="#A5A5A5"/>
<circle cx="113.5" cy="449.6" r="1.6" fill="#A5A5A5"/>
<circle cx="124.7" cy="447.2" r="1.6" fill="#A5A5A5"/>
<circle cx="129.3" cy="449.9" r="1.6" fill="#A5A5A5"/>
<circle cx="132.4" cy="449.3" r="1.6" fill="#A5A5A5"/>
<circle cx="132.7" cy="453.3" r="1.6" fill="#A5A5A5"/>
<circle cx="131" cy="457.6" r="1.6" fill="#A5A5A5"/>
<circle cx="133.9" cy="456.5" r="1.6" fill="#A5A5A5"/>
<circle cx="139.6" cy="458.8" r="1.6" fill="#A5A5A5"/>
<circle cx="145.6" cy="448.7" r="1.6" fill="#A5A5A5"/>
<circle cx="145.9" cy="452.4" r="1.6" fill="#A5A5A5"/>
<circle cx="142.4" cy="454.4" r="1.6" fill="#A5A5A5"/>
<circle cx="144.5" cy="457.3" r="1.6" fill="#A5A5A5"/>
<circle cx="149.9" cy="447.6" r="1.6" fill="#A5A5A5"/>
<circle cx="152.7" cy="458.1" r="1.6" fill="#A5A5A5"/>
<circle cx="153.9" cy="461.9" r="1.6" fill="#A5A5A5"/>
<circle cx="165.4" cy="449.3" r="1.6" fill="#A5A5A5"/>
<circle cx="174.2" cy="451.2" r="1.6" fill="#A5A5A5"/>
<circle cx="158.6" cy="456.9" r="1.6" fill="#A5A5A5"/>
<circle cx="153.4" cy="458.2" r="1.6" fill="#A5A5A5"/>
<circle cx="155.1" cy="459.3" r="1.6" fill="#A5A5A5"/>
<circle cx="162.6" cy="463" r="1.6" fill="#A5A5A5"/>
<circle cx="165.4" cy="457.6" r="1.6" fill="#A5A5A5"/>
<circle cx="164.9" cy="460.4" r="1.6" fill="#A5A5A5"/>
<circle cx="171.7" cy="457.3" r="1.6" fill="#A5A5A5"/>
<circle cx="176.9" cy="456.1" r="1.6" fill="#A5A5A5"/>
<circle cx="175.7" cy="457.3" r="1.6" fill="#A5A5A5"/>
<circle cx="170.6" cy="462.4" r="1.6" fill="#A5A5A5"/>
<circle cx="172.3" cy="463.6" r="1.6" fill="#A5A5A5"/>
<circle cx="174.6" cy="463.6" r="1.6" fill="#A5A5A5"/>
<circle cx="180.3" cy="454.2" r="1.6" fill="#A5A5A5"/>
<circle cx="182.6" cy="455.3" r="1.6" fill="#A5A5A5"/>
<circle cx="185.4" cy="456.5" r="1.6" fill="#A5A5A5"/>
<circle cx="180.3" cy="461.3" r="1.6" fill="#A5A5A5"/>
<circle cx="182.6" cy="462.4" r="1.6" fill="#A5A5A5"/>
<circle cx="184.3" cy="461.9" r="1.6" fill="#A5A5A5"/>
<circle cx="185.4" cy="463" r="1.6" fill="#A5A5A5"/>
<circle cx="189.4" cy="460.7" r="1.6" fill="#A5A5A5"/>
<circle cx="193.6" cy="456.7" r="1.6" fill="#A5A5A5"/>
<circle cx="197.6" cy="454.4" r="1.6" fill="#A5A5A5"/>
<circle cx="190.1" cy="459" r="1.6" fill="#A5A5A5"/>
<circle cx="194.1" cy="459.6" r="1.6" fill="#A5A5A5"/>
<circle cx="201" cy="457.9" r="1.6" fill="#A5A5A5"/>
<circle cx="203.3" cy="459" r="1.6" fill="#A5A5A5"/>
<circle cx="207.3" cy="456.7" r="1.6" fill="#A5A5A5"/>
<circle cx="211.9" cy="459" r="1.6" fill="#A5A5A5"/>
<circle cx="217" cy="460.1" r="1.6" fill="#A5A5A5"/>
<circle cx="221" cy="460" r="1.6" fill="#A5A5A5"/>
<circle cx="187.3" cy="462.4" r="1.6" fill="#A5A5A5"/>
<circle cx="191.3" cy="463" r="1.6" fill="#A5A5A5"/>
<circle cx="196.4" cy="463" r="1.6" fill="#A5A5A5"/>
<circle cx="201.6" cy="463.6" r="1.6" fill="#A5A5A5"/>
<circle cx="204.4" cy="465.3" r="1.6" fill="#A5A5A5"/>
<circle cx="207.9" cy="463.6" r="1.6" fill="#A5A5A5"/>
<circle cx="214.1" cy="464.1" r="1.6" fill="#A5A5A5"/>
<circle cx="217" cy="465.6" r="1.6" fill="#A5A5A5"/>
<circle cx="220.4" cy="464.5" r="1.6" fill="#A5A5A5"/>
<circle cx="223.3" cy="463" r="1.6" fill="#A5A5A5"/>
<circle cx="195.3" cy="467.6" r="1.6" fill="#A5A5A5"/>
<circle cx="209" cy="468.1" r="1.6" fill="#A5A5A5"/>
<circle cx="225.1" cy="463.6" r="1.6" fill="#A5A5A5"/>
<circle cx="228.6" cy="464.1" r="1.6" fill="#A5A5A5"/>
<circle cx="234.9" cy="465.3" r="1.6" fill="#A5A5A5"/>
<circle cx="240.6" cy="464.7" r="1.6" fill="#A5A5A5"/>
<circle cx="237.1" cy="464.5" r="1.6" fill="#A5A5A5"/>
<circle cx="246.9" cy="465.3" r="1.6" fill="#A5A5A5"/>
<circle cx="248.6" cy="464.1" r="1.6" fill="#A5A5A5"/>
<circle cx="254.3" cy="465.6" r="1.6" fill="#A5A5A5"/>
<circle cx="258.9" cy="465.6" r="1.6" fill="#A5A5A5"/>
<circle cx="247.5" cy="466.5" r="1.6" fill="#A5A5A5"/>
<circle cx="255.5" cy="466" r="1.6" fill="#A5A5A5"/>
<circle cx="260" cy="465.8" r="1.6" fill="#A5A5A5"/>
<circle cx="263.5" cy="466" r="1.6" fill="#A5A5A5"/>
<circle cx="268" cy="467.5" r="1.6" fill="#A5A5A5"/>
<circle cx="270.5" cy="467.2" r="1.6" fill="#A5A5A5"/>
<circle cx="180.5" cy="460.5" r="1.6" fill="#A5A5A5"/>
<circle cx="182" cy="463.5" r="1.6" fill="#A5A5A5"/>
<circle cx="184" cy="461" r="1.6" fill="#A5A5A5"/>
<circle cx="186" cy="463.5" r="1.6" fill="#A5A5A5"/>
<circle cx="186.5" cy="460.5" r="1.6" fill="#A5A5A5"/>
<circle cx="178.5" cy="462.5" r="1.6" fill="#A5A5A5"/>
<circle cx="183.5" cy="465" r="1.6" fill="#A5A5A5"/>
<circle cx="192.5" cy="459.8" r="1.6" fill="#A5A5A5"/>
<circle cx="194.8" cy="462" r="1.6" fill="#A5A5A5"/>
<circle cx="196.5" cy="465" r="1.6" fill="#A5A5A5"/>
<circle cx="193" cy="465.5" r="1.6" fill="#A5A5A5"/>
<circle cx="197.5" cy="460.5" r="1.6" fill="#A5A5A5"/>
<circle cx="195.5" cy="467.5" r="1.6" fill="#A5A5A5"/>
<circle cx="187.08" cy="457.96" r="1.6" fill="#A5A5A5"/>
<circle cx="187.01" cy="460.32" r="1.6" fill="#A5A5A5"/>
<circle cx="187.02" cy="463.07" r="1.6" fill="#A5A5A5"/>
<circle cx="189.22" cy="457.22" r="1.6" fill="#A5A5A5"/>
<circle cx="188.86" cy="463.51" r="1.6" fill="#A5A5A5"/>
<circle cx="192.16" cy="457.37" r="1.6" fill="#A5A5A5"/>
<circle cx="192.04" cy="459.97" r="1.6" fill="#A5A5A5"/>
<circle cx="191.64" cy="462.64" r="1.6" fill="#A5A5A5"/>
<circle cx="191.92" cy="466.16" r="1.6" fill="#A5A5A5"/>
<circle cx="194.7" cy="457.8" r="1.6" fill="#A5A5A5"/>
<circle cx="194.44" cy="460.28" r="1.6" fill="#A5A5A5"/>
<circle cx="196.74" cy="460.32" r="1.6" fill="#A5A5A5"/>
<circle cx="196.4" cy="463.56" r="1.6" fill="#A5A5A5"/>
<circle cx="197.49" cy="465.88" r="1.6" fill="#A5A5A5"/>
<circle cx="199.09" cy="463.79" r="1.6" fill="#A5A5A5"/>
<circle cx="200.17" cy="465.98" r="1.6" fill="#A5A5A5"/>
<circle cx="202.18" cy="458.55" r="1.6" fill="#A5A5A5"/>
<circle cx="201.42" cy="460.8" r="1.6" fill="#A5A5A5"/>
<circle cx="204.14" cy="458.2" r="1.6" fill="#A5A5A5"/>
<circle cx="204.92" cy="460.98" r="1.6" fill="#A5A5A5"/>
<circle cx="204.43" cy="463.69" r="1.6" fill="#A5A5A5"/>
<circle cx="203.98" cy="466.84" r="1.6" fill="#A5A5A5"/>
<circle cx="206.89" cy="458.65" r="1.6" fill="#A5A5A5"/>
<circle cx="207.66" cy="461.94" r="1.6" fill="#A5A5A5"/>
<circle cx="207.54" cy="464.04" r="1.6" fill="#A5A5A5"/>
<circle cx="207.5" cy="467.18" r="1.6" fill="#A5A5A5"/>
<circle cx="210.19" cy="458.98" r="1.6" fill="#A5A5A5"/>
<circle cx="209.88" cy="461.8" r="1.6" fill="#A5A5A5"/>
<circle cx="208.9" cy="464.26" r="1.6" fill="#A5A5A5"/>
<circle cx="209.14" cy="467.47" r="1.6" fill="#A5A5A5"/>
<circle cx="211.93" cy="460.06" r="1.6" fill="#A5A5A5"/>
<circle cx="212.1" cy="462.67" r="1.6" fill="#A5A5A5"/>
<circle cx="211.52" cy="465.41" r="1.6" fill="#A5A5A5"/>
<circle cx="214.07" cy="462.87" r="1.6" fill="#A5A5A5"/>
<circle cx="217.63" cy="460.58" r="1.6" fill="#A5A5A5"/>
<circle cx="216.89" cy="462.5" r="1.6" fill="#A5A5A5"/>
<circle cx="217.65" cy="465.34" r="1.6" fill="#A5A5A5"/>
<circle cx="219.16" cy="460.77" r="1.6" fill="#A5A5A5"/>
<circle cx="219.21" cy="462.83" r="1.6" fill="#A5A5A5"/>
<circle cx="218.9" cy="465.58" r="1.6" fill="#A5A5A5"/>
<circle cx="222.49" cy="460.81" r="1.6" fill="#A5A5A5"/>
<circle cx="222.58" cy="463.1" r="1.6" fill="#A5A5A5"/>
<circle cx="221.68" cy="466.05" r="1.6" fill="#A5A5A5"/>
<circle cx="224.05" cy="460.82" r="1.6" fill="#A5A5A5"/>
<circle cx="223.98" cy="463.51" r="1.6" fill="#A5A5A5"/>
<circle cx="227.27" cy="463.98" r="1.6" fill="#A5A5A5"/>
<circle cx="226.35" cy="466.12" r="1.6" fill="#A5A5A5"/>
<circle cx="230.15" cy="463.67" r="1.6" fill="#A5A5A5"/>
<circle cx="229.48" cy="467.08" r="1.6" fill="#A5A5A5"/>
<circle cx="232.7" cy="461.28" r="1.6" fill="#A5A5A5"/>
<circle cx="232.33" cy="464.8" r="1.6" fill="#A5A5A5"/>
<circle cx="232.29" cy="467.39" r="1.6" fill="#A5A5A5"/>
<circle cx="234.76" cy="465.05" r="1.6" fill="#A5A5A5"/>
<circle cx="237.41" cy="462.56" r="1.6" fill="#A5A5A5"/>
<circle cx="237.17" cy="464.78" r="1.6" fill="#A5A5A5"/>
<circle cx="237.15" cy="467.18" r="1.6" fill="#A5A5A5"/>
<circle cx="240.19" cy="462.83" r="1.6" fill="#A5A5A5"/>
<circle cx="239.34" cy="465.39" r="1.6" fill="#A5A5A5"/>
<circle cx="241.92" cy="463.04" r="1.6" fill="#A5A5A5"/>
<circle cx="242.35" cy="464.93" r="1.6" fill="#A5A5A5"/>
<circle cx="244.47" cy="462.68" r="1.6" fill="#A5A5A5"/>
<circle cx="244.5" cy="465.76" r="1.6" fill="#A5A5A5"/>
<circle cx="246.32" cy="465.7" r="1.6" fill="#A5A5A5"/>
<circle cx="249.08" cy="463.12" r="1.6" fill="#A5A5A5"/>
<circle cx="251.92" cy="464.09" r="1.6" fill="#A5A5A5"/>
<circle cx="252.23" cy="466.1" r="1.6" fill="#A5A5A5"/>
<circle cx="254.93" cy="464.36" r="1.6" fill="#A5A5A5"/>
<circle cx="257.12" cy="464.02" r="1.6" fill="#A5A5A5"/>
<circle cx="257.0" cy="467.24" r="1.6" fill="#A5A5A5"/>
<circle cx="260.13" cy="466.93" r="1.6" fill="#A5A5A5"/>
<circle cx="261.93" cy="464.46" r="1.6" fill="#A5A5A5"/>
<circle cx="261.88" cy="467.51" r="1.6" fill="#A5A5A5"/>
<circle cx="264.24" cy="465.25" r="1.6" fill="#A5A5A5"/>
<circle cx="266.4" cy="464.67" r="1.6" fill="#A5A5A5"/>
<circle cx="61.7" cy="371.6" r="1.6" fill="#C55A11"/>
<circle cx="61.7" cy="399.6" r="1.6" fill="#C55A11"/>
<circle cx="66.9" cy="409.4" r="1.6" fill="#C55A11"/>
<circle cx="77.1" cy="413.5" r="1.6" fill="#C55A11"/>
<circle cx="81.1" cy="422.5" r="1.6" fill="#C55A11"/>
<circle cx="98.3" cy="434.3" r="1.6" fill="#C55A11"/>
<circle cx="115.4" cy="446.1" r="1.6" fill="#C55A11"/>
<circle cx="159.1" cy="462.2" r="1.6" fill="#C55A11"/>
<circle cx="206.7" cy="458.8" r="1.6" fill="#C55A11"/>
<circle cx="219.8" cy="462.1" r="1.6" fill="#C55A11"/>
<circle cx="199.3" cy="466.8" r="1.6" fill="#C55A11"/>
<circle cx="211.5" cy="466.8" r="1.6" fill="#C55A11"/>
<circle cx="223.1" cy="466.8" r="1.6" fill="#C55A11"/>
<circle cx="231.4" cy="465.3" r="1.6" fill="#C55A11"/>
<circle cx="238.1" cy="466.4" r="1.6" fill="#C55A11"/>
<circle cx="242.3" cy="467" r="1.6" fill="#C55A11"/>
<circle cx="244.8" cy="467.4" r="1.6" fill="#C55A11"/>
<circle cx="87.6" cy="428.7" r="1.6" fill="#00B0F0"/>
<circle cx="98.3" cy="436.8" r="1.6" fill="#00B0F0"/>
<circle cx="116.2" cy="448.6" r="1.6" fill="#00B0F0"/>
<circle cx="137.3" cy="458.8" r="1.6" fill="#00B0F0"/>
<circle cx="142.4" cy="451.9" r="1.6" fill="#00B0F0"/>
<circle cx="158" cy="463.2" r="1.6" fill="#00B0F0"/>
<circle cx="168.9" cy="459.2" r="1.6" fill="#00B0F0"/>
<circle cx="189.5" cy="466" r="1.6" fill="#00B0F0"/>
<circle cx="225.7" cy="467.6" r="1.6" fill="#00B0F0"/>
<circle cx="250.7" cy="465.4" r="1.6" fill="#00B0F0"/>
<circle cx="251.8" cy="467.9" r="1.6" fill="#00B0F0"/>
<circle cx="257.1" cy="467.6" r="1.6" fill="#00B0F0"/>
<circle cx="262.5" cy="468.2" r="1.6" fill="#00B0F0"/>
<circle cx="75.2" cy="334.3" r="1.6" fill="#70AD47"/>
<circle cx="82.6" cy="367.1" r="1.6" fill="#70AD47"/>
<circle cx="68.3" cy="389.9" r="1.6" fill="#70AD47"/>
<circle cx="73.4" cy="393" r="1.6" fill="#70AD47"/>
<circle cx="82.5" cy="396.7" r="1.6" fill="#70AD47"/>
<circle cx="79.5" cy="413.5" r="1.6" fill="#70AD47"/>
<circle cx="104" cy="419.7" r="1.6" fill="#70AD47"/>
<circle cx="97.4" cy="427.4" r="1.6" fill="#70AD47"/>
<circle cx="108.2" cy="437.6" r="1.6" fill="#70AD47"/>
<circle cx="121.3" cy="451" r="1.6" fill="#70AD47"/>
<circle cx="134.8" cy="445.9" r="1.6" fill="#70AD47"/>
<circle cx="148.4" cy="451.3" r="1.6" fill="#70AD47"/>
<circle cx="151.5" cy="461.2" r="1.6" fill="#70AD47"/>
<circle cx="157.4" cy="451.2" r="1.6" fill="#70AD47"/>
<circle cx="174.2" cy="453.9" r="1.6" fill="#70AD47"/>
<circle cx="172.3" cy="459.9" r="1.6" fill="#70AD47"/>
<circle cx="175.7" cy="460.1" r="1.6" fill="#70AD47"/>
<circle cx="197.3" cy="456.9" r="1.6" fill="#70AD47"/>
<circle cx="191.9" cy="466.1" r="1.6" fill="#70AD47"/>
<circle cx="227.1" cy="467.3" r="1.6" fill="#70AD47"/>
<circle cx="232.6" cy="462.4" r="1.6" fill="#70AD47"/>
<circle cx="238.9" cy="462.8" r="1.6" fill="#70AD47"/>
<circle cx="243.4" cy="467.6" r="1.6" fill="#70AD47"/>
<circle cx="253" cy="467.7" r="1.6" fill="#70AD47"/>
<circle cx="259.5" cy="467.8" r="1.6" fill="#70AD47"/>
<circle cx="265" cy="468.2" r="1.6" fill="#70AD47"/>
<text x="194.1" y="366.6" font-family="Liberation Sans, sans-serif" font-size="9.9" fill="#1f1f1f" stroke="#1f1f1f" stroke-width="0.2" textLength="26" lengthAdjust="spacingAndGlyphs">Liquid</text>
<text x="32.9" y="472.05" font-family="Liberation Sans, sans-serif" font-size="8.9" fill="#595959" stroke="#595959" stroke-width="0.08" text-anchor="end">0</text>
<text x="32.9" y="434.33" font-family="Liberation Sans, sans-serif" font-size="8.9" fill="#595959" stroke="#595959" stroke-width="0.08" text-anchor="end">0.2</text>
<text x="32.9" y="396.61" font-family="Liberation Sans, sans-serif" font-size="8.9" fill="#595959" stroke="#595959" stroke-width="0.08" text-anchor="end">0.4</text>
<text x="32.9" y="358.89" font-family="Liberation Sans, sans-serif" font-size="8.9" fill="#595959" stroke="#595959" stroke-width="0.08" text-anchor="end">0.6</text>
<text x="32.9" y="321.17" font-family="Liberation Sans, sans-serif" font-size="8.9" fill="#595959" stroke="#595959" stroke-width="0.08" text-anchor="end">0.8</text>
<text x="32.9" y="283.45" font-family="Liberation Sans, sans-serif" font-size="8.9" fill="#595959" stroke="#595959" stroke-width="0.08" text-anchor="end">1</text>
<text x="34.55" y="485.1" font-family="Liberation Sans, sans-serif" font-size="9" fill="#595959" stroke="#595959" stroke-width="0.08" textLength="14.1" lengthAdjust="spacingAndGlyphs">185</text>
<text x="73.08" y="485.1" font-family="Liberation Sans, sans-serif" font-size="9" fill="#595959" stroke="#595959" stroke-width="0.08" textLength="14.1" lengthAdjust="spacingAndGlyphs">195</text>
<text x="111.61" y="485.1" font-family="Liberation Sans, sans-serif" font-size="9" fill="#595959" stroke="#595959" stroke-width="0.08" textLength="14.1" lengthAdjust="spacingAndGlyphs">205</text>
<text x="150.14" y="485.1" font-family="Liberation Sans, sans-serif" font-size="9" fill="#595959" stroke="#595959" stroke-width="0.08" textLength="14.1" lengthAdjust="spacingAndGlyphs">215</text>
<text x="188.67" y="485.1" font-family="Liberation Sans, sans-serif" font-size="9" fill="#595959" stroke="#595959" stroke-width="0.08" textLength="14.1" lengthAdjust="spacingAndGlyphs">225</text>
<text x="227.2" y="485.1" font-family="Liberation Sans, sans-serif" font-size="9" fill="#595959" stroke="#595959" stroke-width="0.08" textLength="14.1" lengthAdjust="spacingAndGlyphs">235</text>
<text x="265.73" y="485.1" font-family="Liberation Sans, sans-serif" font-size="9" fill="#595959" stroke="#595959" stroke-width="0.08" textLength="14.1" lengthAdjust="spacingAndGlyphs">245</text>
<text x="116.4" y="500.4" font-family="Liberation Sans, sans-serif" font-size="11.8" fill="#595959" stroke="#595959" stroke-width="0.1" textLength="81.5" lengthAdjust="spacingAndGlyphs">Temperature (K)</text>
<text transform="translate(10,400.8) rotate(-90)" x="0" y="0" font-family="Liberation Sans, sans-serif" font-size="11.8" fill="#595959" stroke="#595959" stroke-width="0.1" textLength="71.3" lengthAdjust="spacingAndGlyphs">Water Activity</text>
<text x="3.6" y="279.2" font-family="Liberation Sans, sans-serif" font-size="12.6" fill="#000" stroke="#000" stroke-width="0.12" textLength="9.3" lengthAdjust="spacingAndGlyphs">B</text>
<line x1="281.7" y1="345.9" x2="293" y2="345.9" stroke="#2F5597" stroke-width="1.6"/>
<line x1="281.7" y1="364.1" x2="293" y2="364.1" stroke="#000" stroke-width="1.9"/>
<text x="293.25" y="348.4" font-family="Liberation Sans, sans-serif" font-size="7.6" fill="#595959" textLength="40.3" lengthAdjust="spacingAndGlyphs">Solidus Line</text>
<text x="293.25" y="366.7" font-family="Liberation Sans, sans-serif" font-size="7.6" fill="#595959" textLength="25.7" lengthAdjust="spacingAndGlyphs">Ice Line</text>
<circle cx="287.4" cy="381.7" r="1.55" fill="#A5A5A5"/>
<circle cx="287.4" cy="399.8" r="1.55" fill="#C55A11"/>
<circle cx="287.4" cy="418.1" r="1.55" fill="#00B0F0"/>
<circle cx="287.4" cy="435.7" r="1.55" fill="#70AD47"/>
<text x="293.55" y="384.3" font-family="Liberation Sans, sans-serif" font-size="7.6" fill="#595959" textLength="45.4" lengthAdjust="spacingAndGlyphs">Phoenix Data</text>
<text x="293.55" y="402.4" font-family="Liberation Sans, sans-serif" font-size="7.6" fill="#595959" textLength="33.2" lengthAdjust="spacingAndGlyphs">Adsorbed</text>
<text x="293.75" y="421.1" font-family="Liberation Sans, sans-serif" font-size="7.6" fill="#595959" textLength="26.5" lengthAdjust="spacingAndGlyphs">Melting</text>
<text x="293.55" y="438.5" font-family="Liberation Sans, sans-serif" font-size="7.6" fill="#595959" textLength="47.8" lengthAdjust="spacingAndGlyphs">Adsorbed and</text>
<text x="293.75" y="449.1" font-family="Liberation Sans, sans-serif" font-size="7.6" fill="#595959" textLength="26.5" lengthAdjust="spacingAndGlyphs">Melting</text>
</svg>
</body></html>
